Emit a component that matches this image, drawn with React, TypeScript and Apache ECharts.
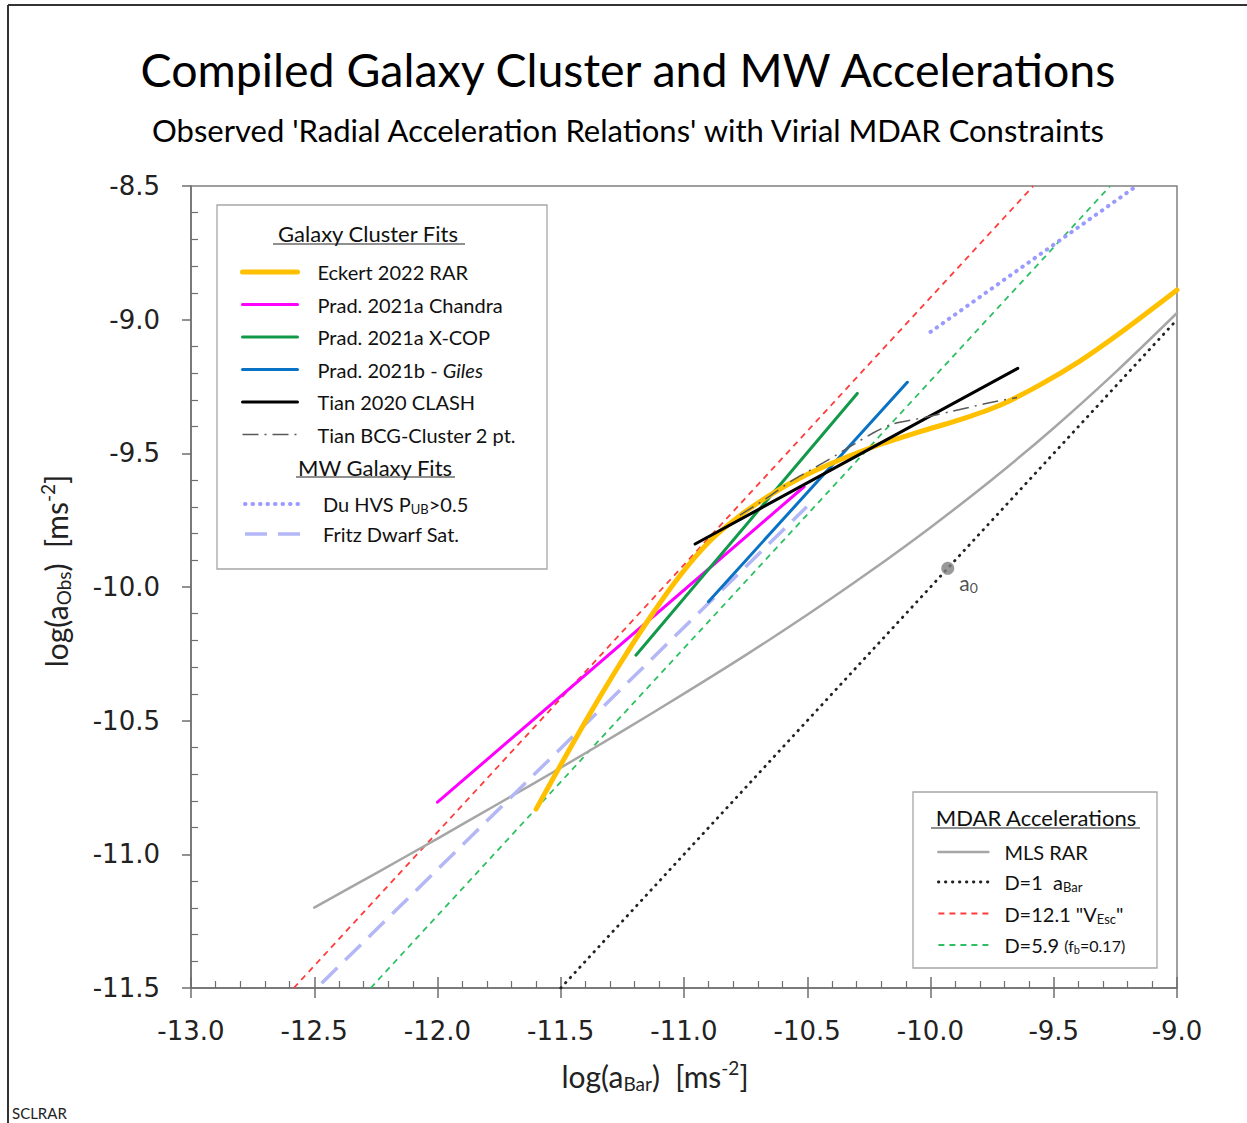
import React, { useEffect, useRef } from 'react';
import * as echarts from 'echarts';

const FONT = 'Lato, "Noto Sans", sans-serif';
const TICK_FONT = '"DejaVu Sans", sans-serif';

// Axis ranges and tick step
const X_RANGE = [-13, -9];
const Y_RANGE = [-11.5, -8.5];
const TICK_STEP = 0.5;

// MDAR accelerations
const mlsX = [-12.5, -12.25, -12.0, -11.75, -11.5, -11.25, -11.0, -10.75, -10.5, -10.25, -10.0, -9.75, -9.5, -9.25, -9.0];
const mlsY = [-11.199, -11.071, -10.941, -10.809, -10.676, -10.539, -10.399, -10.255, -10.104, -9.945, -9.777, -9.598, -9.405, -9.197, -8.975];
const d1X = [-11.5, -9.0];
const d1Y = [-11.5, -9.0];
const d121X = [-12.583, -9.583];
const d121Y = [-11.5, -8.5];
const d59X = [-12.271, -9.271];
const d59Y = [-11.5, -8.5];
const a0Point = [-9.93, -9.93];

// Galaxy cluster fits
const eckertX = [-11.600, -11.503, -11.381, -11.260, -11.138, -11.016, -10.895, -10.773, -10.651, -10.529, -10.367, -10.205, -10.043, -9.880, -9.718, -9.556, -9.394, -9.231, -9.000];
const eckertY = [-10.831, -10.670, -10.473, -10.288, -10.114, -9.957, -9.828, -9.733, -9.656, -9.592, -9.524, -9.467, -9.419, -9.374, -9.320, -9.244, -9.155, -9.050, -8.889];
const chandraX = [-12.0, -10.513];
const chandraY = [-10.805, -9.625];
const xcopX = [-11.195, -10.297];
const xcopY = [-10.255, -9.276];
const gilesX = [-10.901, -10.094];
const gilesY = [-10.055, -9.234];
const clashX = [-10.955, -9.646];
const clashY = [-9.839, -9.182];
const bcgX = [-10.773, -10.663, -10.558, -10.436, -10.233, -10.152, -10.030, -9.909, -9.771, -9.649];
const bcgY = [-9.731, -9.667, -9.600, -9.536, -9.424, -9.390, -9.367, -9.342, -9.313, -9.291];

// MW galaxy fits
const duX = [-10.0, -9.164];
const duY = [-9.046, -8.5];
const fritzX = [-12.47, -10.502];
const fritzY = [-11.482, -9.700];

const clusterNames = ['Eckert 2022 RAR', 'Prad. 2021a Chandra', 'Prad. 2021a X-COP', 'Prad. 2021b - Giles', 'Tian 2020 CLASH', 'Tian BCG-Cluster 2 pt.'];
const mwNames = ['Du HVS PUB>0.5', 'Fritz Dwarf Sat.'];
const mdarNames = ['MLS RAR', 'D=1 aBar', 'D=12.1 "VEsc"', 'D=5.9 (fb=0.17)'];

const zip = (xs: number[], ys: number[]) => xs.map((x, i) => [x, ys[i]]);

function lineSeries(name: string, xs: number[], ys: number[], color: string, width: number, type: any, extra: any = {}) {
  return {
    type: 'line',
    name,
    data: zip(xs, ys),
    symbol: 'none',
    showSymbol: false,
    silent: true,
    clip: true,
    lineStyle: { color, width, type, cap: 'round', join: 'round' },
    itemStyle: { color },
    emphasis: { disabled: true },
    ...extra,
  };
}

const legendRich = {
  t: { fontFamily: FONT, fontSize: 20, color: '#111', lineHeight: 22 },
  i: { fontFamily: FONT, fontSize: 20, color: '#111', lineHeight: 22, fontStyle: 'italic' },
  s: { fontFamily: FONT, fontSize: 13, color: '#111', padding: [10, 0, 0, 0] },
  m: { fontFamily: FONT, fontSize: 16, color: '#111', lineHeight: 22 },
  ms: { fontFamily: FONT, fontSize: 11, color: '#111', padding: [8, 0, 0, 0] },
};

function legendFormat(name: string): string {
  switch (name) {
    case 'Prad. 2021b - Giles':
      return '{t|Prad. 2021b - }{i|Giles}';
    case 'Du HVS PUB>0.5':
      return '{t|Du HVS P}{s|UB}{t|>0.5}';
    case 'D=1 aBar':
      return '{t|D=1  a}{s|Bar}';
    case 'D=12.1 "VEsc"':
      return '{t|D=12.1 "V}{s|Esc}{t|"}';
    case 'D=5.9 (fb=0.17)':
      return '{t|D=5.9 }{m|(f}{ms|b}{m|=0.17)}';
    default:
      return '{t|' + name + '}';
  }
}

function legendBlock(names: string[], left: number, top: number, itemWidth: number, gap: number, textPad: number) {
  return {
    orient: 'vertical',
    left,
    top,
    padding: 0,
    itemGap: gap,
    itemWidth,
    itemHeight: 14,
    selectedMode: false,
    data: names,
    itemStyle: { color: 'rgba(0,0,0,0)', borderWidth: 0, borderColor: 'rgba(0,0,0,0)' },
    lineStyle: { width: 'inherit' },
    formatter: legendFormat,
    textStyle: { fontFamily: FONT, fontSize: 20, color: '#111', padding: [0, 0, 0, textPad], rich: legendRich },
  };
}

function buildOption() {
  const axisNameRich = {
    a: { fontFamily: FONT, fontSize: 30, color: '#222' },
    s: { fontFamily: FONT, fontSize: 19, color: '#222', padding: [16, 0, 0, 0] },
    p: { fontFamily: FONT, fontSize: 19, color: '#222', padding: [0, 0, 16, 0] },
  };
  const commonAxis = {
    type: 'value',
    interval: TICK_STEP,
    splitLine: { show: false },
  };
  return {
    animation: false,
    backgroundColor: '#ffffff',
    title: [
      {
        text: 'Compiled Galaxy Cluster and MW Accelerations',
        left: 628,
        textAlign: 'center',
        top: 45,
        padding: 0,
        textStyle: { fontFamily: FONT, fontSize: 46.5, fontWeight: 'normal', color: '#000' },
      },
      {
        text: "Observed 'Radial Acceleration Relations' with Virial MDAR Constraints",
        left: 628,
        textAlign: 'center',
        top: 114.5,
        padding: 0,
        textStyle: { fontFamily: FONT, fontSize: 31, fontWeight: 'normal', color: '#000' },
      },
    ],
    grid: {
      left: 191,
      top: 186,
      right: 70,
      bottom: 135,
      show: true,
      borderColor: '#808080',
      borderWidth: 1.5,
      backgroundColor: 'transparent',
    },
    xAxis: [
      {
        ...commonAxis,
        min: X_RANGE[0],
        max: X_RANGE[1],
        position: 'bottom',
        axisLine: { show: true, lineStyle: { color: '#6e6e6e', width: 1.5 } },
        axisTick: { show: true, inside: true, length: 11, lineStyle: { color: '#6e6e6e', width: 1.5 } },
        minorTick: { show: true, splitNumber: 5, length: 7, lineStyle: { color: '#6e6e6e', width: 1.2 } },
        axisLabel: {
          show: true,
          margin: 30,
          fontFamily: TICK_FONT,
          fontSize: 26,
          color: '#222',
          formatter: (v: number) => v.toFixed(1),
          showMinLabel: true,
          showMaxLabel: true,
        },
        name: '{a|log(a}{s|Bar}{a|)  [ms}{p|-2}{a|]}',
        nameLocation: 'middle',
        nameGap: 70,
        nameTextStyle: { rich: axisNameRich, padding: [0, 58, 0, 0] },
      },
      {
        ...commonAxis,
        min: X_RANGE[0],
        max: X_RANGE[1],
        position: 'bottom',
        axisLine: { show: false },
        axisTick: { show: true, inside: false, length: 10, lineStyle: { color: '#6e6e6e', width: 1.5 } },
        axisLabel: { show: false },
      },
    ],
    yAxis: [
      {
        ...commonAxis,
        min: Y_RANGE[0],
        max: Y_RANGE[1],
        position: 'left',
        axisLine: { show: true, lineStyle: { color: '#6e6e6e', width: 1.5 } },
        axisTick: { show: true, inside: false, length: 9, lineStyle: { color: '#6e6e6e', width: 1.5 } },
        axisLabel: {
          show: true,
          margin: 31,
          fontFamily: TICK_FONT,
          fontSize: 26,
          color: '#222',
          formatter: (v: number) => v.toFixed(1),
          showMinLabel: true,
          showMaxLabel: true,
        },
        name: '{a|log(a}{s|Obs}{a|)  [ms}{p|-2}{a|]}',
        nameLocation: 'middle',
        nameGap: 118,
        nameTextStyle: { rich: axisNameRich, padding: [0, 0, 0, 32] },
      },
      {
        ...commonAxis,
        min: Y_RANGE[0],
        max: Y_RANGE[1],
        position: 'left',
        axisLine: { show: false },
        axisTick: { show: false, inside: true },
        minorTick: { show: true, splitNumber: 5, length: 7, lineStyle: { color: '#6e6e6e', width: 1.2 } },
        axisLabel: { show: false },
      },
    ],
    legend: [
      legendBlock(clusterNames, 240, 262, 55, 12.5, 15),
      legendBlock(mwNames, 243, 494, 55, 8.5, 18),
      legendBlock(mdarNames, 937, 842, 50, 10, 11),
    ],
    graphic: [
      { type: 'line', shape: { x1: 8, y1: 5, x2: 1247, y2: 5 }, style: { stroke: '#333', lineWidth: 2 }, z: 1 },
      { type: 'line', shape: { x1: 8, y1: 5, x2: 8, y2: 1123 }, style: { stroke: '#333', lineWidth: 2 }, z: 1 },
      { type: 'rect', shape: { x: 217, y: 205, width: 330, height: 364 }, style: { fill: '#fff', stroke: '#a6a6a6', lineWidth: 1.3 }, z: 3 },
      { type: 'rect', shape: { x: 913, y: 792, width: 244, height: 176 }, style: { fill: '#fff', stroke: '#a6a6a6', lineWidth: 1.3 }, z: 3 },
      { type: 'text', x: 368, y: 233, style: { text: 'Galaxy Cluster Fits', font: '22px ' + FONT, fill: '#111', align: 'center', verticalAlign: 'middle' }, z: 5 },
      { type: 'line', shape: { x1: 273, y1: 244, x2: 465, y2: 244 }, style: { stroke: '#222', lineWidth: 1.2 }, z: 5 },
      { type: 'text', x: 375, y: 467, style: { text: 'MW Galaxy Fits', font: '22px ' + FONT, fill: '#111', align: 'center', verticalAlign: 'middle' }, z: 5 },
      { type: 'line', shape: { x1: 296, y1: 477, x2: 455, y2: 477 }, style: { stroke: '#222', lineWidth: 1.2 }, z: 5 },
      { type: 'text', x: 1036, y: 817, style: { text: 'MDAR Accelerations', font: '22px ' + FONT, fill: '#111', align: 'center', verticalAlign: 'middle' }, z: 5 },
      { type: 'line', shape: { x1: 931, y1: 828, x2: 1140, y2: 828 }, style: { stroke: '#222', lineWidth: 1.2 }, z: 5 },
      { type: 'text', x: 12, y: 1113, style: { text: 'SCLRAR', font: '15px ' + FONT, fill: '#222', align: 'left', verticalAlign: 'middle' }, z: 5 },
    ],
    series: [
      lineSeries('D=12.1 "VEsc"', d121X, d121Y, '#ff3b3b', 1.8, [6, 5], { lineStyle: { color: '#ff3b3b', width: 1.8, type: [6, 5], cap: 'butt' } }),
      lineSeries('D=5.9 (fb=0.17)', d59X, d59Y, '#2fbf62', 1.8, [6, 5], { lineStyle: { color: '#2fbf62', width: 1.8, type: [6, 5], cap: 'butt' } }),
      lineSeries('D=1 aBar', d1X, d1Y, '#222222', 2.8, [0.5, 6.5]),
      lineSeries('MLS RAR', mlsX, mlsY, '#a6a6a6', 2.5, 'solid', { smooth: 0.3 }),
      lineSeries('Fritz Dwarf Sat.', fritzX, fritzY, '#b3b7f6', 3.5, [22, 11], { lineStyle: { color: '#b3b7f6', width: 3.5, type: [22, 11], cap: 'butt' } }),
      lineSeries('Du HVS PUB>0.5', duX, duY, '#9a9aff', 4, [0.5, 7]),
      lineSeries('Prad. 2021a Chandra', chandraX, chandraY, '#ff00ff', 3, 'solid'),
      lineSeries('Prad. 2021a X-COP', xcopX, xcopY, '#12994a', 3, 'solid'),
      lineSeries('Prad. 2021b - Giles', gilesX, gilesY, '#0a72c4', 3, 'solid'),
      lineSeries('Eckert 2022 RAR', eckertX, eckertY, '#ffc000', 5, 'solid', { smooth: 0.3 }),
      lineSeries('Tian 2020 CLASH', clashX, clashY, '#000000', 3, 'solid'),
      lineSeries('Tian BCG-Cluster 2 pt.', bcgX, bcgY, '#595959', 1.5, [16, 6, 2, 6], { smooth: 0.3, lineStyle: { color: '#595959', width: 1.5, type: [16, 6, 2, 6], cap: 'butt' } }),
      {
        type: 'scatter',
        name: 'a0',
        data: [a0Point],
        symbol: 'circle',
        symbolSize: 13,
        silent: true,
        z: 6,
        itemStyle: { color: '#7f7f7f' },
        label: {
          show: true,
          position: 'right',
          distance: 5,
          offset: [0, 14],
          formatter: '{a|a}{s|0}',
          rich: {
            a: { fontFamily: FONT, fontSize: 21, color: '#222' },
            s: { fontFamily: FONT, fontSize: 14, color: '#222', padding: [10, 0, 0, 0] },
          },
        },
      },
    ],
  };
}

export default function App() {
  const ref = useRef<HTMLDivElement>(null);
  useEffect(() => {
    if (!ref.current) return;
    const chart = echarts.init(ref.current, undefined, { renderer: 'svg' });
    chart.setOption(buildOption() as any);
    return () => {
      chart.dispose();
    };
  }, []);
  return (
    <div
      ref={ref}
      style={{ position: 'absolute', left: 0, top: 0, width: 1247, height: 1123, background: '#fff' }}
    />
  );
}
